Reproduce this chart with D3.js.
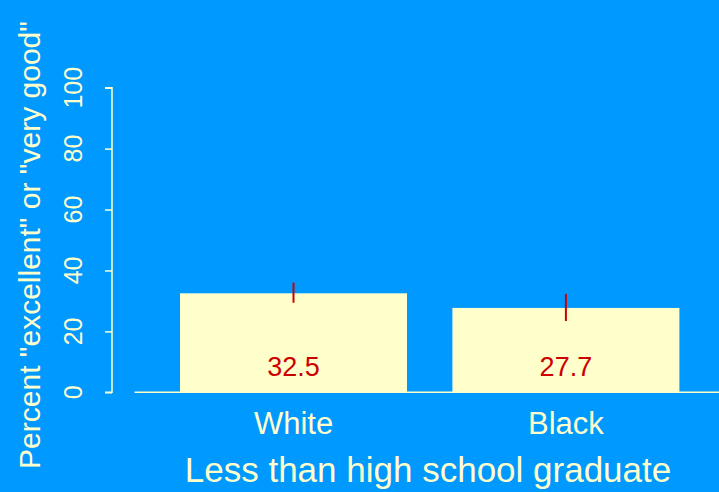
<!DOCTYPE html>
<html>
<head>
<meta charset="utf-8">
<script src="https://cdn.jsdelivr.net/npm/d3@7"></script>
<style>
  html, body { margin: 0; padding: 0; background: #0099FF; }
  svg { display: block; }
  text { font-family: "Liberation Sans", Arial, sans-serif; }
</style>
</head>
<body>
<script>
// ---- data ----
const categories = ["White", "Black"];
const values = [32.5, 27.7];
const lowerCI = [29.4, 23.4];
const upperCI = [36.0, 32.3];
const yTicks = [0, 20, 40, 60, 80, 100];
const xTitle = "Less than high school graduate";
const yTitle = "Percent \"excellent\" or \"very good\"";

// ---- layout ----
const W = 719, H = 492;
const bg = "#0099FF", fg = "#FFFFCC", barFill = "#FFFFCC", red = "#CC0000";

const svg = d3.select("body").append("svg").attr("width", W).attr("height", H);
svg.append("rect").attr("width", W).attr("height", H).attr("fill", bg);

const y = d3.scaleLinear().domain([0, 100]).range([392.3, 87.7]);
const x = d3.scaleBand().domain(categories)
  .range([134.6, 134.6 + 2.6 * 227])
  .paddingInner(0.2 / 1.2).paddingOuter(0.2 / 1.2);

// baseline
svg.append("line")
  .attr("x1", x.range()[0]).attr("x2", W)
  .attr("y1", y(0)).attr("y2", y(0))
  .attr("stroke", fg).attr("stroke-width", 1.5);

// bars
svg.selectAll("rect.bar").data(categories).enter().append("rect")
  .attr("class", "bar")
  .attr("x", d => x(d)).attr("width", x.bandwidth())
  .attr("y", (d, i) => y(values[i]))
  .attr("height", (d, i) => y(0) - y(values[i]))
  .attr("fill", barFill);

// error bars
svg.selectAll("line.err").data(categories).enter().append("line")
  .attr("class", "err")
  .attr("x1", d => x(d) + x.bandwidth() / 2).attr("x2", d => x(d) + x.bandwidth() / 2)
  .attr("y1", (d, i) => y(upperCI[i])).attr("y2", (d, i) => y(lowerCI[i]))
  .attr("stroke", red).attr("stroke-width", 2);

// value labels
svg.selectAll("text.val").data(categories).enter().append("text")
  .attr("class", "val")
  .attr("x", d => x(d) + x.bandwidth() / 2).attr("y", 376)
  .attr("text-anchor", "middle").attr("font-size", 27).attr("fill", red)
  .text((d, i) => values[i].toFixed(1));

// category labels
svg.selectAll("text.cat").data(categories).enter().append("text")
  .attr("class", "cat")
  .attr("x", d => x(d) + x.bandwidth() / 2).attr("y", 434)
  .attr("text-anchor", "middle").attr("font-size", 31).attr("fill", fg)
  .text(d => d);

// y axis
const axisG = svg.append("g").attr("transform", "translate(112,0)");
axisG.call(d3.axisLeft(y).tickValues(yTicks).tickSize(7).tickFormat(""));
axisG.select(".domain").attr("stroke", fg).attr("stroke-width", 1.5)
  .attr("d", `M-7,${y(100)}H0V${y(0)}H-7`);
axisG.selectAll(".tick line").attr("stroke", fg).attr("stroke-width", 1.5);

// rotated tick labels
svg.selectAll("text.ytick").data(yTicks).enter().append("text")
  .attr("class", "ytick")
  .attr("transform", d => `translate(82,${y(d)}) rotate(-90)`)
  .attr("text-anchor", "middle").attr("font-size", 25).attr("fill", fg)
  .text(d => d);

// axis titles
svg.append("text")
  .attr("x", 428).attr("y", 482)
  .attr("text-anchor", "middle").attr("font-size", 35).attr("fill", fg)
  .text(xTitle);

svg.append("text")
  .attr("transform", "translate(40,245) rotate(-90)")
  .attr("text-anchor", "middle").attr("font-size", 30).attr("fill", fg)
  .text(yTitle);
</script>
</body>
</html>
